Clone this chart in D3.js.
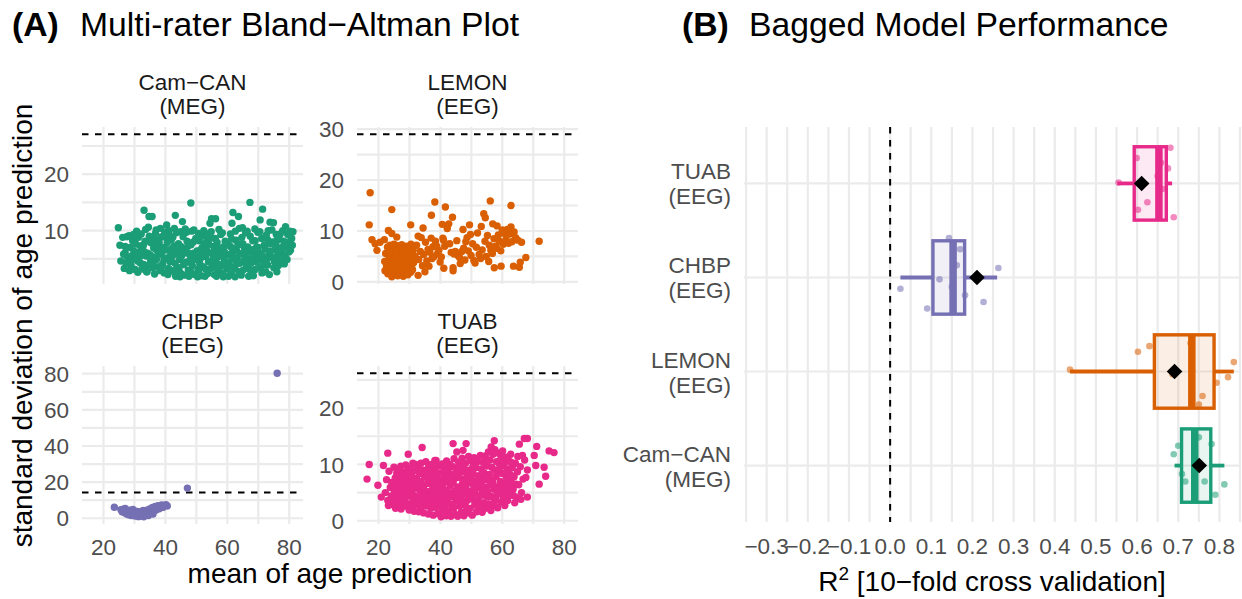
<!DOCTYPE html>
<html><head><meta charset="utf-8">
<script src="https://cdn.jsdelivr.net/npm/d3@7"></script>
<style>body{margin:0;background:#fff}svg{display:block}text{font-family:"Liberation Sans",Arial,Helvetica,sans-serif}</style>
</head><body><svg id="c" width="1242" height="599"></svg>
<script>
// ---------------- DATA ----------------
const siteNames = ["Cam−CAN", "LEMON", "CHBP", "TUAB"];
const siteModality = ["(MEG)", "(EEG)", "(EEG)", "(EEG)"];
const siteColors = ["#1B9E77", "#D95F02", "#7570B3", "#E7298A"];
const limitLines = [27.1, 29.0, 14.2, 26.2];
const yTicksCamcan = [10, 20];
const yTicksLemon = [0, 10, 20, 30];
const yTicksChbp = [0, 20, 40, 60, 80];
const yTicksTuab = [0, 10, 20];
const xTicksA = [20, 40, 60, 80];

// mean of age prediction, sd of age prediction (flat pairs)
const camcanPoints = [24.8,10.5,25.3,7.4,25.6,4.6,26.7,3.3,26.2,8.8,27.0,6.1,27.5,8.9,27.8,5.2,26.5,5.8,27.3,4.2,
28.2,9.1,28.6,7.0,29.0,5.5,29.4,8.2,28.9,3.8,29.8,6.4,29.2,4.9,28.4,2.9,29.7,9.3,
30.2,3.1,30.5,7.6,30.9,5.1,31.3,8.8,31.6,6.2,30.7,9.9,31.8,4.3,31.1,2.6,30.3,5.9,31.9,7.3,
32.2,9.4,32.6,6.8,33.0,4.0,33.1,13.6,33.4,8.1,33.8,5.5,32.4,3.2,33.6,10.2,32.9,7.4,33.9,2.7,
34.1,2.7,34.7,12.5,35.7,12.5,34.3,6.0,34.8,9.0,35.2,4.6,35.5,7.8,35.9,3.4,34.5,10.6,35.1,5.7,35.8,8.6,
36.2,6.9,36.5,2.3,36.8,9.5,37.1,4.9,37.4,7.4,37.8,3.6,36.4,5.3,37.6,8.3,37.0,10.1,37.9,6.0,
38.2,2.9,38.5,5.8,38.8,8.9,39.1,4.1,39.4,7.0,39.8,9.7,38.4,10.4,39.6,2.5,39.0,6.3,38.7,3.5,
40.4,11.0,40.2,5.1,40.6,7.9,41.0,3.3,41.3,9.2,41.7,6.1,40.8,2.2,41.5,4.5,41.9,8.4,40.4,6.6,41.1,10.0,
42.2,5.4,42.5,2.8,42.8,7.3,43.2,12.7,43.1,4.2,43.5,9.6,43.8,6.4,42.4,8.8,43.3,1.9,43.9,3.5,42.9,10.4,
44.2,7.7,44.6,4.9,45.0,2.4,45.5,11.6,45.3,6.0,45.7,8.9,44.4,3.1,45.9,4.0,44.9,9.8,45.2,5.5,44.7,1.8,
46.3,2.1,46.1,6.7,46.6,4.4,47.0,8.1,47.4,3.0,47.8,5.9,46.8,9.7,47.2,7.2,46.4,10.3,47.6,1.9,47.9,4.8,
48.2,14.9,48.3,7.5,48.7,3.8,49.1,6.0,49.4,2.2,49.8,8.6,48.5,9.9,49.6,4.9,48.9,5.3,49.2,10.1,48.1,2.8,
50.2,6.4,50.5,3.1,50.9,8.2,51.3,5.0,51.6,2.0,51.9,7.0,50.7,9.5,51.1,4.1,50.4,1.8,51.7,9.0,51.4,6.6,
52.2,3.6,52.6,7.7,53.0,5.4,53.4,9.4,53.7,2.4,52.4,10.0,53.2,6.8,53.9,4.5,52.8,1.9,53.5,8.3,
54.4,11.3,54.9,12.1,54.2,6.1,54.6,3.3,55.0,8.7,55.4,5.0,55.8,2.2,54.8,9.8,55.6,7.2,55.2,4.0,55.9,6.3,
56.2,12.1,56.3,4.6,56.7,7.9,57.1,2.9,57.5,6.0,57.9,9.3,56.5,1.9,57.3,10.2,57.7,3.7,56.9,5.3,56.1,8.6,
58.2,6.9,58.5,2.5,58.9,5.1,59.3,8.1,59.7,3.6,58.4,9.6,59.1,7.3,59.8,5.8,58.7,1.8,59.5,4.4,
60.2,7.6,60.6,4.3,61.0,9.4,61.5,11.3,61.3,2.3,61.8,13.2,61.7,6.2,60.4,1.9,60.9,5.6,61.4,8.5,61.9,3.5,
62.2,6.7,62.6,9.9,63.0,4.1,63.6,12.5,63.4,7.4,63.8,2.7,62.4,3.2,63.2,5.2,62.8,8.3,63.9,10.4,62.5,1.8,
64.3,5.9,64.7,8.8,65.1,3.0,65.5,6.9,65.9,9.6,64.5,2.1,65.3,4.6,64.9,10.5,65.7,5.4,64.1,7.6,
66.2,3.8,66.6,7.1,67.0,5.0,67.3,15.0,67.4,9.0,67.8,2.6,66.4,9.9,67.2,6.3,66.9,1.9,67.6,4.2,
68.2,8.2,68.6,5.4,69.0,3.1,69.4,7.0,69.8,9.7,68.4,2.0,69.2,5.9,68.9,10.3,69.6,4.4,68.1,6.6,
70.6,11.9,70.3,6.0,70.7,3.4,71.1,8.6,71.4,13.8,71.5,5.2,71.9,7.4,70.5,9.8,71.2,2.5,71.8,4.0,70.1,4.9,
72.2,6.8,72.6,9.2,73.0,3.9,73.4,5.9,73.8,11.5,73.8,7.7,72.4,2.7,73.2,10.0,72.9,5.0,73.6,2.2,
74.9,11.4,74.2,5.3,74.6,8.0,75.0,3.4,75.4,6.6,75.8,9.3,74.4,10.1,75.2,4.5,76.0,2.7,75.6,7.3,
76.3,5.8,76.7,8.7,77.2,4.8,77.5,7.0,77.9,10.0,76.5,3.8,77.1,9.4,77.7,6.0,76.9,6.6,
78.8,10.7,78.2,8.1,78.6,5.6,79.0,7.1,79.5,9.3,79.9,6.2,80.4,6.5,80.8,8.6,81.2,9.8,81.0,7.4,80.2,9.9,79.3,4.9,78.4,4.1,
27.0,7.2,28.5,4.5,30.0,8.4,31.0,4.6,32.0,5.5,33.2,6.2,34.0,3.8,35.0,8.0,36.0,4.2,37.2,6.5,38.0,7.9,39.5,4.8,40.0,8.8,
41.2,5.3,42.0,6.8,43.0,3.0,44.0,5.8,45.0,7.2,46.0,4.0,47.0,6.0,48.0,4.4,49.0,8.0,50.0,5.6,51.0,3.2,52.0,6.0,53.0,3.2,
54.0,7.6,55.0,6.0,56.0,3.5,57.0,7.0,58.0,4.0,59.0,6.2,60.0,3.2,61.0,7.2,62.0,5.0,63.0,6.4,64.0,4.2,65.0,7.7,66.0,5.9,
67.0,3.2,68.0,4.8,69.0,8.2,70.0,7.0,71.0,5.8,72.0,4.6,73.0,8.4,74.0,6.4,75.0,5.2,76.0,8.2,77.0,5.4,78.0,7.0,79.8,8.0];

const lemonPoints = [22.0,4.0,22.3,5.6,22.6,3.1,22.9,6.8,23.2,2.4,23.4,4.7,23.7,7.2,23.9,3.5,24.1,5.3,24.3,1.0,24.4,6.4,24.6,2.1,
24.8,4.2,25.0,7.4,25.1,3.0,25.3,5.0,25.5,1.6,25.6,6.6,25.8,2.6,25.9,4.0,26.1,7.1,26.2,1.2,26.4,3.3,26.5,5.5,26.7,2.0,
26.8,4.5,27.0,6.9,27.1,1.5,27.3,3.7,27.5,7.3,27.6,2.5,27.8,4.1,28.0,1.1,28.1,6.6,28.3,3.0,28.4,5.2,28.6,1.8,28.7,4.6,
28.9,7.0,29.0,2.3,29.2,3.6,29.3,5.9,29.5,1.4,29.6,4.3,29.8,6.4,29.9,2.8,30.1,3.9,30.2,5.4,30.4,1.9,30.5,7.4,30.7,3.2,
30.8,4.8,31.0,2.4,31.2,6.2,31.4,3.8,22.1,2.2,23.0,1.6,24.9,5.8,26.0,6.0,27.9,5.8,29.1,6.5,23.5,5.9,25.4,3.6,27.2,4.9,
30.0,5.0,28.8,2.9,26.6,2.9,24.5,3.7,
31.8,5.0,32.3,7.2,32.8,1.3,33.0,4.4,33.5,6.0,33.8,8.7,34.2,3.2,34.4,10.6,34.6,5.4,35.0,2.0,35.2,7.8,35.6,4.1,36.0,6.4,
36.3,3.1,36.6,5.8,37.0,8.6,37.1,13.1,37.3,4.6,37.6,6.9,38.0,5.0,38.2,15.7,38.4,8.0,38.8,7.0,39.1,5.6,39.5,6.2,39.9,3.9,
40.3,4.9,40.6,11.3,41.0,8.2,41.1,2.7,41.6,14.7,41.4,7.0,40.8,8.6,
42.2,10.5,42.7,11.4,43.0,7.5,43.5,5.8,43.9,12.7,44.1,2.8,44.1,2.2,44.4,5.5,44.8,6.0,45.3,8.1,45.8,5.1,46.2,4.8,46.4,3.6,
46.9,6.0,47.3,10.3,47.5,6.6,47.9,4.3,48.2,7.9,48.6,8.7,49.0,6.1,49.4,11.2,49.7,9.3,49.9,5.2,50.4,7.5,50.8,4.2,51.2,3.7,
51.6,6.8,52.0,9.6,52.5,5.4,53.0,4.6,53.2,10.9,53.5,6.3,54.0,13.4,54.5,12.6,54.4,8.0,54.8,5.0,55.2,9.1,55.6,4.0,55.8,7.2,
56.1,15.9,56.3,6.2,56.9,11.4,56.8,5.6,57.4,2.8,57.3,8.5,57.8,7.0,58.3,11.0,58.2,6.6,58.7,9.2,59.1,8.0,59.6,3.1,59.5,6.1,
60.0,10.2,60.3,7.4,60.7,9.5,61.2,8.3,61.6,10.3,62.0,7.6,62.8,15.0,62.8,10.8,62.4,9.4,63.1,7.9,63.6,3.1,63.8,9.8,64.3,8.7,
65.0,8.2,65.5,2.9,65.8,3.9,66.2,7.8,67.6,4.8,71.9,8.0,
17.3,17.5,17.0,11.2,17.9,8.3,18.9,7.5,19.5,6.2,20.5,7.8,21.9,8.3,24.3,14.2,23.2,10.1,24.3,9.5,25.9,8.8,30.4,11.2,32.8,9.0];

const chbpPoints = [25.6,4.8,26.0,3.6,26.4,5.0,26.8,3.0,27.2,4.2,27.5,2.4,27.8,3.6,28.1,1.9,28.4,4.4,28.7,2.7,29.0,1.5,29.3,3.4,
29.6,2.2,29.9,4.2,30.2,1.2,30.5,2.9,30.8,1.6,31.0,3.8,31.3,0.9,31.6,2.4,31.9,1.3,32.2,3.3,32.5,1.7,32.8,4.3,33.1,2.2,
33.4,3.2,33.7,1.9,34.0,4.4,34.3,2.7,34.6,3.6,34.9,5.2,35.2,3.1,35.5,4.5,35.8,6.0,36.1,3.9,36.4,5.3,36.7,6.6,37.0,4.6,
37.3,5.8,37.6,7.0,38.0,5.3,38.4,6.6,38.8,7.4,39.2,6.0,39.6,7.1,40.2,7.5,40.6,6.8,30.0,3.0,31.5,3.3,33.0,0.8,34.5,1.5,
36.0,2.3,28.0,3.0,27.0,5.4,29.5,4.9,23.5,6.1,47.1,16.7,76.1,80.3];

const tuabPoints = [22.2,5.0,22.6,7.3,23.0,3.6,23.4,8.8,23.8,5.9,24.1,4.4,24.3,6.8,24.6,2.9,
25.0,9.5,25.2,5.2,25.4,7.6,25.1,3.4,25.6,6.1,25.8,4.2,25.9,8.4,25.5,2.2,
26.3,9.0,26.4,6.9,26.6,4.8,26.7,3.0,26.9,7.8,27.0,5.6,27.2,9.7,27.3,2.1,27.1,4.0,
27.8,6.4,28.0,8.6,28.1,3.5,28.3,5.0,28.5,7.2,28.6,2.6,28.8,9.9,28.9,4.2,29.0,6.0,
29.3,8.1,29.4,3.0,29.6,5.4,29.8,7.0,29.9,1.9,30.0,9.3,30.1,4.4,30.3,6.5,30.4,2.6,
30.7,8.2,30.8,5.0,31.0,3.3,31.1,10.2,31.3,6.9,31.5,1.7,31.6,4.4,31.8,8.9,31.9,5.8,
32.1,2.9,32.3,7.5,32.5,4.0,32.6,9.6,32.8,6.1,33.0,1.6,33.1,3.6,33.3,8.4,33.4,5.2,
33.7,10.2,33.8,7.0,34.0,2.5,34.1,4.6,34.3,9.0,34.5,6.0,34.6,1.4,34.8,3.5,34.9,7.9,
35.1,5.3,35.3,10.5,35.4,2.6,35.6,8.6,35.8,4.2,35.9,6.6,36.1,1.2,36.2,9.6,36.4,3.4,
36.6,7.4,36.7,5.2,36.9,2.2,37.1,10.0,37.2,8.4,37.4,4.3,37.5,6.2,37.7,1.0,37.8,3.2,
38.0,9.2,38.1,7.1,38.3,5.0,38.4,2.4,38.6,10.7,38.7,8.0,38.9,3.9,39.0,6.0,39.2,1.3,
39.4,9.7,39.5,4.7,39.7,7.3,39.8,2.8,40.0,5.6,40.2,0.7,40.3,8.5,40.4,3.7,40.6,10.1,
40.8,6.5,40.9,1.9,41.1,4.5,41.3,9.2,41.4,7.6,41.6,2.8,41.7,5.4,41.9,0.9,42.0,10.6,
42.2,3.7,42.3,7.0,42.5,8.8,42.7,1.7,42.8,5.0,43.0,10.0,43.1,6.2,43.3,2.9,43.4,0.8,
43.6,8.2,43.8,4.3,44.0,9.6,44.1,6.8,44.3,2.2,44.4,11.0,44.6,5.3,44.8,1.1,44.9,7.6,
45.1,3.6,45.2,9.1,45.4,6.0,45.6,0.8,45.7,4.6,45.9,10.4,46.0,7.7,46.2,2.6,46.3,5.5,
46.5,8.6,46.7,1.5,46.8,3.8,47.0,11.1,47.1,6.6,47.3,9.5,47.5,4.8,47.6,0.9,47.8,7.4,
48.0,2.8,48.1,10.2,48.3,5.7,48.5,8.3,48.6,3.6,48.8,1.4,49.0,6.7,49.1,11.4,49.3,4.6,
49.5,9.0,49.6,2.2,49.8,7.5,50.0,5.2,50.1,10.6,50.3,1.0,50.4,3.8,50.6,8.3,50.8,6.1,
50.9,11.2,51.1,2.8,51.2,4.8,51.4,9.4,51.6,7.1,51.7,1.6,51.9,5.8,52.0,10.5,52.2,3.6,
52.4,8.0,52.5,6.4,52.7,2.3,52.9,11.6,53.0,4.5,53.2,9.2,53.3,7.0,53.5,1.5,53.6,5.4,
53.8,10.4,54.0,3.2,54.1,8.5,54.3,6.0,54.5,11.5,54.6,2.2,54.8,4.4,55.0,9.7,55.1,7.3,
55.3,5.2,55.5,12.2,55.6,3.0,55.8,8.2,56.0,10.8,56.1,6.4,56.3,1.8,56.5,4.3,56.6,9.5,
56.8,7.2,57.0,11.8,57.1,2.8,57.3,5.6,57.5,9.0,57.6,12.6,57.8,4.1,58.0,7.9,58.1,10.5,
58.3,6.0,58.5,2.3,58.6,8.8,58.8,12.0,59.0,4.8,59.1,10.0,59.3,7.0,59.5,3.3,59.6,11.3,
59.8,5.7,60.0,8.4,60.1,12.4,60.3,3.9,60.5,9.8,60.6,6.6,60.8,2.7,61.0,11.0,61.1,4.9,
61.3,7.7,61.5,9.2,61.7,3.6,61.9,6.0,62.1,10.6,62.3,8.3,62.5,4.6,62.7,11.8,62.9,6.8,
63.2,9.4,63.5,5.6,63.8,7.8,64.2,10.2,64.5,4.2,64.9,8.7,65.3,6.4,65.8,9.6,66.2,5.0,66.7,7.4,67.2,10.8,64.0,3.2,65.0,11.4,66.0,3.8,
26.0,6.0,27.5,4.5,28.0,7.5,29.0,3.0,30.0,5.5,30.5,8.0,31.5,6.5,32.0,4.0,33.0,7.0,33.5,2.5,34.5,8.5,35.0,4.5,36.0,7.5,
36.5,2.9,37.5,5.5,38.0,3.0,39.0,8.5,39.5,6.5,40.5,2.0,41.0,5.5,42.0,8.0,42.5,4.3,43.5,7.0,44.0,3.0,45.0,8.4,45.5,5.0,
46.5,3.0,47.0,5.8,48.0,9.0,48.5,2.0,49.5,4.0,50.0,7.0,51.0,9.8,51.5,3.0,52.5,7.2,53.0,2.5,54.0,5.0,54.5,7.8,55.5,4.2,
56.0,2.5,57.0,6.5,57.5,3.5,58.5,5.0,59.0,9.0,60.0,6.0,60.5,4.5,61.5,7.0,62.0,5.2,63.0,8.0,63.5,4.5,64.5,6.5,26.5,8.0,
29.5,9.0,32.0,10.0,36.5,9.0,41.0,10.0,46.0,9.5,50.5,9.6,55.0,10.5,59.5,10.8,
17.0,10.0,16.3,7.4,20.9,4.2,19.8,6.3,23.0,12.0,21.6,9.8,23.2,2.7,29.6,11.8,34.1,13.0,44.1,13.7,48.3,13.7,47.3,12.5,
45.3,12.2,38.2,10.7,41.6,10.1,57.4,14.2,56.4,13.1,65.5,13.6,67.1,14.6,68.1,14.6,71.1,13.2,75.1,12.4,76.7,12.1,
70.3,11.6,70.8,9.8,73.5,9.5,74.0,7.9,68.1,4.2,71.9,6.5,67.6,7.7,66.5,11.6,61.2,11.3,62.8,10.4,68.1,9.0];

// Panel B: bagged model performance (top to bottom)
const perfSites = ["TUAB", "CHBP", "LEMON", "Cam−CAN"];
const perfModality = ["(EEG)", "(EEG)", "(EEG)", "(MEG)"];
const perfColors = ["#E7298A", "#7570B3", "#D95F02", "#1B9E77"];
const whiskerLow = [0.552, 0.025, 0.437, 0.691];
const boxQ1 = [0.593, 0.104, 0.642, 0.708];
const boxMedian = [0.653, 0.153, 0.733, 0.740];
const boxQ3 = [0.671, 0.181, 0.787, 0.779];
const whiskerHigh = [0.685, 0.260, 0.835, 0.812];
const baggedScore = [0.611, 0.211, 0.691, 0.751];
const foldScoresTuab = [0.681, 0.599, 0.658, 0.675, 0.555, 0.625, 0.689, 0.650, 0.662, 0.602];
const foldJitterTuab = [-0.38, -0.27, -0.22, -0.16, -0.01, 0.20, 0.36, -0.08, 0.06, 0.28];
const foldScoresChbp = [0.025, 0.090, 0.143, 0.162, 0.182, 0.227, 0.263, 0.120, 0.150, 0.170];
const foldJitterChbp = [0.12, 0.33, -0.42, -0.13, 0.19, 0.26, -0.10, 0.02, 0.10, -0.30];
const foldScoresLemon = [0.437, 0.602, 0.630, 0.835, 0.821, 0.793, 0.759, 0.686, 0.730, 0.750];
const foldJitterLemon = [-0.02, -0.21, -0.27, -0.10, 0.06, 0.12, 0.26, 0.03, -0.30, 0.35];
const foldScoresCamcan = [0.700, 0.689, 0.781, 0.709, 0.717, 0.764, 0.812, 0.790, 0.740, 0.750];
const foldJitterCamcan = [-0.21, -0.12, -0.23, 0.09, 0.17, 0.17, 0.20, 0.31, 0.00, -0.30];
const xTicksB = [-0.3, -0.2, -0.1, 0.0, 0.1, 0.2, 0.3, 0.4, 0.5, 0.6, 0.7, 0.8];

// ---------------- DRAW ----------------
const svg = d3.select("#c");
const GRID = "#EBEBEB", TICKC = "#4D4D4D", STRIPC = "#1A1A1A";
const TICKFS = 22.5, TITLEFS = 28, HEADFS = 33.7;
const fmtMinus = s => String(s).replace("-", "−");

function pairs(a) { const r = []; for (let i = 0; i < a.length; i += 2) r.push([a[i], a[i + 1]]); return r; }
function expand(ext) { const d = (ext[1] - ext[0]) * 0.05; return [ext[0] - d, ext[1] + d]; }
function minors(ticks, dom) {
  const s = ticks.length > 1 ? ticks[1] - ticks[0] : 10; const out = [];
  const lo = ticks[0] - s * 2, hi = ticks[ticks.length - 1] + s * 2;
  for (let v = lo + s / 2; v <= hi; v += s) if (v > dom[0] && v < dom[1]) out.push(v);
  return out;
}

// Titles
svg.append("text").attr("x", 12).attr("y", 36).attr("font-size", HEADFS).attr("font-weight", "bold").text("(A)");
svg.append("text").attr("x", 80).attr("y", 36).attr("font-size", HEADFS).text("Multi-rater Bland−Altman Plot");
svg.append("text").attr("x", 682).attr("y", 36).attr("font-size", HEADFS).attr("font-weight", "bold").text("(B)");
svg.append("text").attr("x", 749).attr("y", 36).attr("font-size", HEADFS).text("Bagged Model Performance");

// Panel A
const facetData = [pairs(camcanPoints), pairs(lemonPoints), pairs(chbpPoints), pairs(tuabPoints)];
const facetTicks = [yTicksCamcan, yTicksLemon, yTicksChbp, yTicksTuab];
const allPts = facetData.flat();
const xDomA = expand(d3.extent(allPts, d => d[0]));
const cols = [[82, 303], [357, 578]], rows = [[127, 284], [366, 524]];

facetData.forEach((pts, i) => {
  const c = cols[i % 2], r = rows[Math.floor(i / 2)];
  const x = d3.scaleLinear().domain(xDomA).range(c);
  const yExt = d3.extent(pts.map(d => d[1]).concat([limitLines[i]]));
  const y = d3.scaleLinear().domain(expand(yExt)).range([r[1], r[0]]);
  const g = svg.append("g");
  const yt = facetTicks[i];
  const ym = minors(yt, y.domain()), xm = minors(xTicksA, xDomA);
  [...ym, ...yt].forEach(v => g.append("line").attr("x1", c[0]).attr("x2", c[1]).attr("y1", y(v)).attr("y2", y(v))
    .attr("stroke", GRID).attr("stroke-width", 2.2));
  [...xm, ...xTicksA].forEach(v => g.append("line").attr("y1", r[0]).attr("y2", r[1]).attr("x1", x(v)).attr("x2", x(v))
    .attr("stroke", GRID).attr("stroke-width", 2.2));
  g.append("line").attr("x1", c[0]).attr("x2", c[1]).attr("y1", y(limitLines[i])).attr("y2", y(limitLines[i]))
    .attr("stroke", "#000").attr("stroke-width", 2).attr("stroke-dasharray", "6.5,6.5");
  g.selectAll("circle").data(pts).join("circle").attr("cx", d => x(d[0])).attr("cy", d => y(d[1]))
    .attr("r", 3.7).attr("fill", siteColors[i]);
  yt.forEach(v => g.append("text").attr("x", c[0] - 13).attr("y", y(v)).attr("dy", "0.36em")
    .attr("text-anchor", "end").attr("font-size", TICKFS).attr("fill", TICKC).text(v));
  const cx = (c[0] + c[1]) / 2;
  g.append("text").attr("x", cx).attr("y", r[0] - 37.5).attr("text-anchor", "middle").attr("font-size", TICKFS)
    .attr("fill", STRIPC).text(siteNames[i]);
  g.append("text").attr("x", cx).attr("y", r[0] - 13.5).attr("text-anchor", "middle").attr("font-size", TICKFS)
    .attr("fill", STRIPC).text(siteModality[i]);
  if (i >= 2) xTicksA.forEach(v => g.append("text").attr("x", x(v)).attr("y", 555).attr("text-anchor", "middle")
    .attr("font-size", TICKFS).attr("fill", TICKC).text(v));
});
svg.append("text").attr("x", 330).attr("y", 583).attr("text-anchor", "middle").attr("font-size", TITLEFS)
  .text("mean of age prediction");
svg.append("text").attr("transform", "translate(32,325.5) rotate(-90)").attr("text-anchor", "middle")
  .attr("font-size", TITLEFS).text("standard deviation of age prediction");

// Panel B
const pL = 744, pR = 1240, pT = 127, pB = 522;
const xB = d3.scaleLinear().domain([-0.355, 0.85]).range([pL, pR]);
const yB = d3.scalePoint().domain(perfSites).range([pT, pB]).padding(0.6);
const step = yB.step();
const gB = svg.append("g");
for (let v = -0.35; v <= 0.851; v += 0.05) {
  gB.append("line").attr("x1", xB(v)).attr("x2", xB(v)).attr("y1", pT).attr("y2", pB).attr("stroke", GRID).attr("stroke-width", 2.2);
}
perfSites.forEach(s => gB.append("line").attr("x1", pL).attr("x2", pR).attr("y1", yB(s)).attr("y2", yB(s))
  .attr("stroke", GRID).attr("stroke-width", 2.2));
gB.append("line").attr("x1", xB(0)).attr("x2", xB(0)).attr("y1", pT).attr("y2", pB).attr("stroke", "#000")
  .attr("stroke-width", 2).attr("stroke-dasharray", "6.5,6.5");

const foldScores = [foldScoresTuab, foldScoresChbp, foldScoresLemon, foldScoresCamcan];
const foldJitter = [foldJitterTuab, foldJitterChbp, foldJitterLemon, foldJitterCamcan];
const boxH = step * 0.78;
perfSites.forEach((s, i) => {
  const cy = yB(s), col = perfColors[i];
  gB.append("line").attr("x1", xB(whiskerLow[i])).attr("x2", xB(boxQ1[i])).attr("y1", cy).attr("y2", cy)
    .attr("stroke", col).attr("stroke-width", 3.8);
  gB.append("line").attr("x1", xB(boxQ3[i])).attr("x2", xB(whiskerHigh[i])).attr("y1", cy).attr("y2", cy)
    .attr("stroke", col).attr("stroke-width", 3.8);
  gB.append("rect").attr("x", xB(boxQ1[i])).attr("width", xB(boxQ3[i]) - xB(boxQ1[i]))
    .attr("y", cy - boxH / 2).attr("height", boxH).attr("fill", col).attr("fill-opacity", 0.1)
    .attr("stroke", col).attr("stroke-width", 3.4);
  gB.append("line").attr("x1", xB(boxMedian[i])).attr("x2", xB(boxMedian[i])).attr("y1", cy - boxH / 2).attr("y2", cy + boxH / 2)
    .attr("stroke", col).attr("stroke-width", 7.5);
  foldScores[i].forEach((v, k) => gB.append("circle").attr("cx", xB(v)).attr("cy", cy + foldJitter[i][k] * step)
    .attr("r", 3.3).attr("fill", col).attr("fill-opacity", 0.55));
  const mx = xB(baggedScore[i]), h = 7.8;
  gB.append("path").attr("d", `M${mx},${cy - h}L${mx + h},${cy}L${mx},${cy + h}L${mx - h},${cy}Z`).attr("fill", "#000");
  gB.append("text").attr("x", 731).attr("y", cy - 4).attr("text-anchor", "end").attr("font-size", TICKFS)
    .attr("fill", TICKC).text(s);
  gB.append("text").attr("x", 731).attr("y", cy + 21).attr("text-anchor", "end").attr("font-size", TICKFS)
    .attr("fill", TICKC).text(perfModality[i]);
});
xTicksB.forEach(v => gB.append("text").attr("x", xB(v)).attr("y", 554).attr("text-anchor", "middle")
  .attr("font-size", TICKFS).attr("fill", TICKC).text(fmtMinus(v.toFixed(1))));
const xt = gB.append("text").attr("x", (pL + pR) / 2).attr("y", 591).attr("text-anchor", "middle").attr("font-size", TITLEFS);
xt.append("tspan").text("R");
xt.append("tspan").attr("font-size", 19).attr("dy", -11).text("2");
xt.append("tspan").attr("dy", 11).text(" [10−fold cross validation]");
</script></body></html>
